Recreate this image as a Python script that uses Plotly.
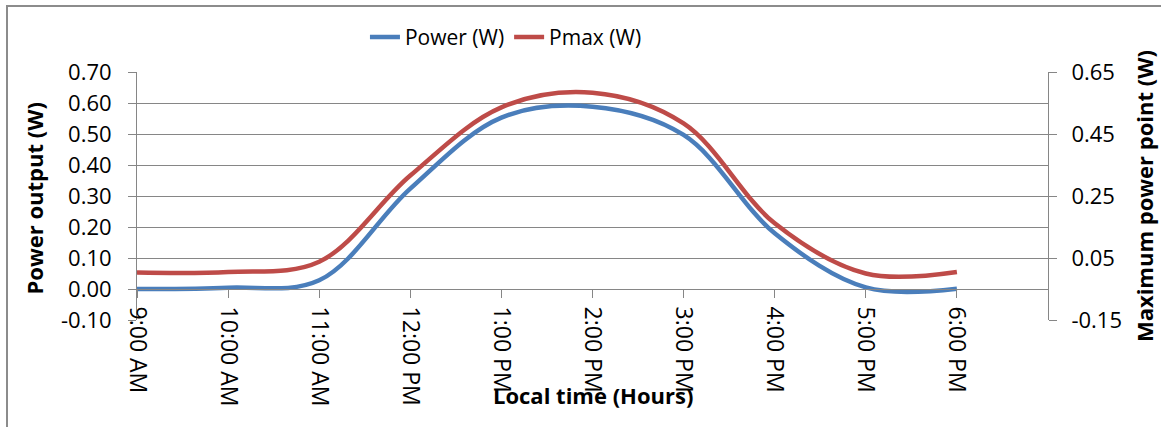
import plotly.graph_objects as go

# Data (hourly readings, smoothed line as in the original)
hours = [9, 10, 11, 12, 13, 14, 15, 16, 17, 18]
power_w = [0.000, 0.004, 0.028, 0.324, 0.553, 0.588, 0.497, 0.180, 0.005, 0.001]
pmax_w = [0.003, 0.005, 0.038, 0.316, 0.536, 0.583, 0.484, 0.162, 0.000, 0.005]
tick_labels = ["9:00 AM", "10:00 AM", "11:00 AM", "12:00 PM", "1:00 PM",
               "2:00 PM", "3:00 PM", "4:00 PM", "5:00 PM", "6:00 PM"]
left_ticks = [-0.10, 0.00, 0.10, 0.20, 0.30, 0.40, 0.50, 0.60, 0.70]
right_ticks = [-0.15, 0.05, 0.25, 0.45, 0.65]

FONT = "Open Sans"
GRID = "#868686"
BLUE = "#4A7EBB"
RED = "#BE4B48"
TICK_SIZE = 22
TITLE_SIZE = 22

fig = go.Figure()
fig.add_trace(go.Scatter(x=hours, y=power_w, name="Power (W)", mode="lines",
                         line=dict(color=BLUE, width=4.5, shape="spline", smoothing=1.0),
                         yaxis="y"))
fig.add_trace(go.Scatter(x=hours, y=pmax_w, name="Pmax (W)", mode="lines",
                         line=dict(color=RED, width=4.5, shape="spline", smoothing=1.0),
                         yaxis="y2"))

fig.update_layout(
    width=1161, height=427,
    margin=dict(l=137, r=113, t=72, b=107),
    paper_bgcolor="white", plot_bgcolor="white",
    font=dict(family=FONT, size=TICK_SIZE, color="black"),
    showlegend=True,
    legend=dict(orientation="h", x=0.405, xanchor="center", y=1.14, yanchor="middle",
                font=dict(family=FONT, size=21, color="black"),
                bgcolor="rgba(0,0,0,0)", tracegroupgap=0),
    xaxis=dict(range=[9, 19], tickmode="array", tickvals=hours, ticktext=tick_labels,
               tickangle=90, anchor="free", position=0.125, automargin=False,
               showline=True, linecolor=GRID, linewidth=1,
               ticks="outside", ticklen=8, tickcolor=GRID, ticklabelstandoff=4,
               showgrid=False, zeroline=False,
               tickfont=dict(family=FONT, size=23, color="black")),
    yaxis=dict(range=[-0.1, 0.7], tickmode="array", tickvals=left_ticks,
               ticktext=[f"{v:.2f}" for v in left_ticks], automargin=False,
               showline=True, linecolor=GRID, linewidth=1,
               ticks="outside", ticklen=8, tickcolor=GRID, ticklabelstandoff=12,
               showgrid=True, gridcolor=GRID, gridwidth=1, zeroline=False,
               tickfont=dict(family=FONT, size=TICK_SIZE, color="black")),
    yaxis2=dict(range=[-0.15, 0.65], tickmode="array", tickvals=right_ticks,
                ticktext=[f"{v:.2f}" for v in right_ticks],
                overlaying="y", side="right", anchor="x", automargin=False,
                showline=True, linecolor=GRID, linewidth=1,
                ticks="outside", ticklen=8, tickcolor=GRID, ticklabelstandoff=10,
                showgrid=False, zeroline=False,
                tickfont=dict(family=FONT, size=TICK_SIZE, color="black")),
)

# Axis titles as annotations
fig.add_annotation(text="<b>Power output (W)</b>", xref="paper", yref="paper",
                   x=-0.113, y=0.49, textangle=-90, showarrow=False,
                   font=dict(family=FONT, size=TITLE_SIZE, color="black"),
                   xanchor="center", yanchor="middle")
fig.add_annotation(text="<b>Maximum power point (W)</b>", xref="paper", yref="paper",
                   x=1.1055, y=0.5, textangle=-90, showarrow=False,
                   font=dict(family=FONT, size=TITLE_SIZE, color="black"),
                   xanchor="center", yanchor="middle")
fig.add_annotation(text="<b>Local time (Hours)</b>", xref="paper", yref="paper",
                   x=0.5, y=-0.302, showarrow=False,
                   font=dict(family=FONT, size=TITLE_SIZE, color="black"),
                   xanchor="center", yanchor="middle")

# Outer chart border
fig.add_shape(type="rect", xref="paper", yref="paper",
              x0=-0.1427, y0=-0.6, x1=1.2, y1=1.266,
              line=dict(color="#8C8C8C", width=2), fillcolor="rgba(0,0,0,0)",
              layer="below")

fig.write_html("out.html", config={"displayModeBar": False},
               post_script="document.body.style.margin='0px';")
